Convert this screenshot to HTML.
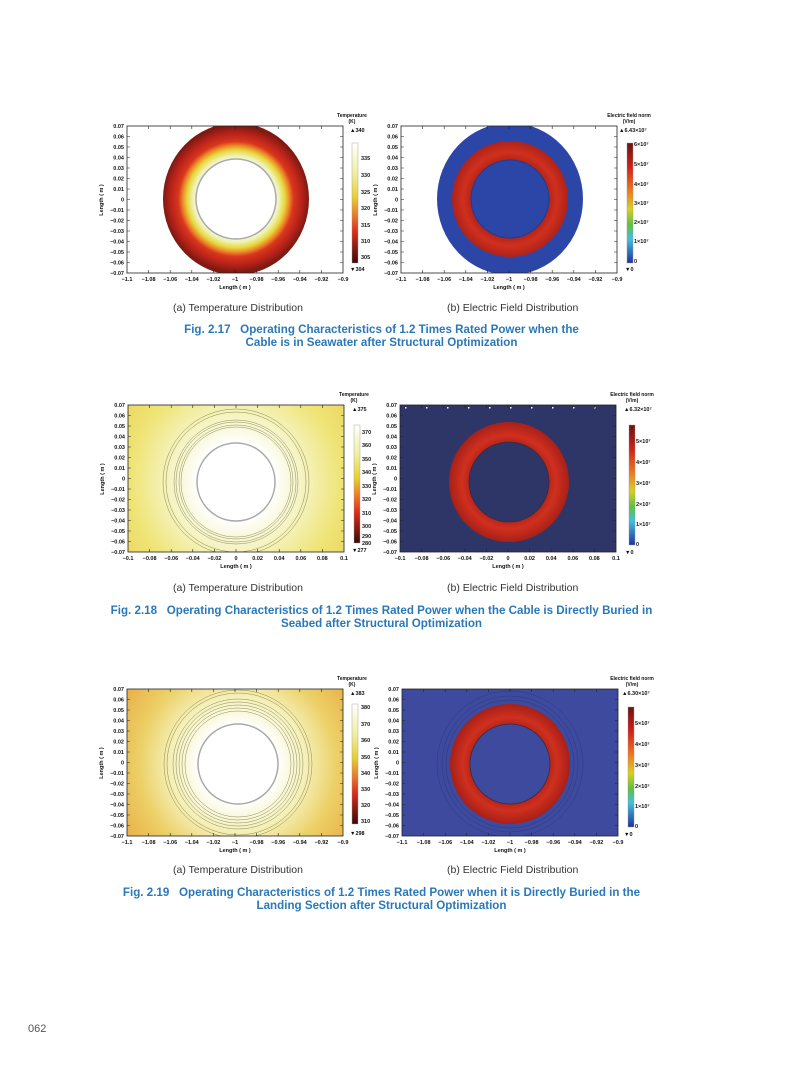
<!DOCTYPE html>
<html><head><meta charset="utf-8"><style>
body{margin:0;background:#fff;width:793px;height:1077px;position:relative;overflow:hidden;font-family:"Liberation Sans",sans-serif}
.sub{position:absolute;font-size:10.5px;color:#333}
.cap{position:absolute;left:-15px;width:793px;text-align:center;font-size:11.6px;font-weight:bold;color:#2a78b8;line-height:13px}
svg text{font-family:"Liberation Sans",sans-serif;font-weight:bold;fill:#111}
</style></head><body>
<svg width="793" height="1077" style="position:absolute;left:0;top:0">
<defs>
<radialGradient id="tA" gradientUnits="userSpaceOnUse" cx="0" cy="0" r="73">
<stop offset="0.54" stop-color="#f6f6e8"/><stop offset="0.6" stop-color="#eef0a8"/><stop offset="0.67" stop-color="#e6d83c"/><stop offset="0.73" stop-color="#ec8a2a"/><stop offset="0.79" stop-color="#d9361c"/><stop offset="0.9" stop-color="#b8221a"/><stop offset="1" stop-color="#7e1a12"/></radialGradient>
<radialGradient id="tC" gradientUnits="userSpaceOnUse" cx="0" cy="0" r="150">
<stop offset="0.26" stop-color="#ffffff"/><stop offset="0.45" stop-color="#f5f3c0"/><stop offset="0.7" stop-color="#efe476"/><stop offset="1" stop-color="#e9d058"/></radialGradient>
<radialGradient id="tE" gradientUnits="userSpaceOnUse" cx="0" cy="0" r="150">
<stop offset="0.26" stop-color="#ffffff"/><stop offset="0.45" stop-color="#f5f0b8"/><stop offset="0.66" stop-color="#ecd066"/><stop offset="1" stop-color="#e8a03a"/></radialGradient>
<radialGradient id="eR" gradientUnits="userSpaceOnUse" cx="0" cy="0" r="60">
<stop offset="0.6" stop-color="#a82018"/><stop offset="0.78" stop-color="#d0301e"/><stop offset="1" stop-color="#a82018"/></radialGradient>
<linearGradient id="cT" x1="0" y1="0" x2="0" y2="1">
<stop offset="0" stop-color="#ffffff"/><stop offset="0.25" stop-color="#f0f0a0"/><stop offset="0.45" stop-color="#e8d030"/><stop offset="0.6" stop-color="#ec7a28"/><stop offset="0.75" stop-color="#d82a1a"/><stop offset="1" stop-color="#3a0a08"/></linearGradient>
<linearGradient id="cE" x1="0" y1="0" x2="0" y2="1">
<stop offset="0" stop-color="#6a1410"/><stop offset="0.2" stop-color="#d02018"/><stop offset="0.4" stop-color="#ee7a20"/><stop offset="0.55" stop-color="#d8d020"/><stop offset="0.68" stop-color="#60c040"/><stop offset="0.8" stop-color="#40c0e0"/><stop offset="1" stop-color="#2030a0"/></linearGradient>
<clipPath id="fr"><rect x="0" y="0" width="216" height="147"/></clipPath>
<g id="yl" font-size="5.5" text-anchor="end">
<text x="-3" y="2">0.07</text><text x="-3" y="12.5">0.06</text><text x="-3" y="23">0.05</text><text x="-3" y="33.5">0.04</text><text x="-3" y="44">0.03</text><text x="-3" y="54.5">0.02</text><text x="-3" y="65">0.01</text><text x="-3" y="75.5">0</text><text x="-3" y="86">−0.01</text><text x="-3" y="96.5">−0.02</text><text x="-3" y="107">−0.03</text><text x="-3" y="117.5">−0.04</text><text x="-3" y="128">−0.05</text><text x="-3" y="138.5">−0.06</text><text x="-3" y="149">−0.07</text>
<text transform="translate(-24,74) rotate(-90)" text-anchor="middle">Length ( m )</text>
</g>
<g id="xa" font-size="5.5" text-anchor="middle">
<text x="0" y="155">−1.1</text><text x="21.6" y="155">−1.08</text><text x="43.2" y="155">−1.06</text><text x="64.8" y="155">−1.04</text><text x="86.4" y="155">−1.02</text><text x="108" y="155">−1</text><text x="129.6" y="155">−0.98</text><text x="151.2" y="155">−0.96</text><text x="172.8" y="155">−0.94</text><text x="194.4" y="155">−0.92</text><text x="216" y="155">−0.9</text><text x="108" y="163">Length ( m )</text></g>
<g id="xb" font-size="5.5" text-anchor="middle">
<text x="0" y="155">−0.1</text><text x="21.6" y="155">−0.08</text><text x="43.2" y="155">−0.06</text><text x="64.8" y="155">−0.04</text><text x="86.4" y="155">−0.02</text><text x="108" y="155">0</text><text x="129.6" y="155">0.02</text><text x="151.2" y="155">0.04</text><text x="172.8" y="155">0.06</text><text x="194.4" y="155">0.08</text><text x="216" y="155">0.1</text><text x="108" y="163">Length ( m )</text></g>
<g id="tk" stroke="#222" stroke-width="0.6">
<path d="M0 10.5h3M0 21h3M0 31.5h3M0 42h3M0 52.5h3M0 63h3M0 73.5h3M0 84h3M0 94.5h3M0 105h3M0 115.5h3M0 126h3M0 136.5h3M216 10.5h-3M216 21h-3M216 31.5h-3M216 42h-3M216 52.5h-3M216 63h-3M216 73.5h-3M216 84h-3M216 94.5h-3M216 105h-3M216 115.5h-3M216 126h-3M216 136.5h-3M21.6 147v-3M43.2 147v-3M64.8 147v-3M86.4 147v-3M108 147v-3M129.6 147v-3M151.2 147v-3M172.8 147v-3M194.4 147v-3M21.6 0v3M43.2 0v3M64.8 0v3M86.4 0v3M108 0v3M129.6 0v3M151.2 0v3M172.8 0v3M194.4 0v3"/>
<rect x="0" y="0" width="216" height="147" fill="none" stroke-width="0.8"/></g>
</defs>

<!-- 2.17 A -->
<g transform="translate(127,126)">
<g clip-path="url(#fr)"><rect width="216" height="147" fill="#fff"/>
<g transform="translate(109,73)"><ellipse rx="73" ry="76" fill="url(#tA)"/><circle r="40" fill="#fff" stroke="#aaa" stroke-width="1.5"/></g></g>
<use href="#tk"/><use href="#yl"/><use href="#xa"/>
<rect x="225" y="17" width="6" height="120" fill="url(#cT)" stroke="#999" stroke-width="0.4"/>
<g font-size="5.5"><text x="225" y="-9" text-anchor="middle" font-size="5">Temperature</text><text x="225" y="-3" text-anchor="middle" font-size="5">(K)</text><text x="223" y="6">▲340</text>
<text x="234" y="34">335</text><text x="234" y="51">330</text><text x="234" y="68">325</text><text x="234" y="84">320</text><text x="234" y="101">315</text><text x="234" y="117">310</text><text x="234" y="133">305</text><text x="223" y="145">▼304</text></g>
</g>
<!-- 2.17 B -->
<g transform="translate(401,126)">
<g clip-path="url(#fr)"><rect width="216" height="147" fill="#fff"/>
<g transform="translate(109,73)"><ellipse rx="73" ry="76" fill="#2c46a8"/><circle r="58" fill="url(#eR)"/><circle r="39" fill="#2c46a8" stroke="#223a90" stroke-width="1"/></g></g>
<use href="#tk"/><use href="#yl"/><use href="#xa"/>
<rect x="226" y="17" width="6" height="120" fill="url(#cE)" stroke="#999" stroke-width="0.4"/>
<g font-size="5.5"><text x="228" y="-9" text-anchor="middle" font-size="5">Electric field norm</text><text x="228" y="-3" text-anchor="middle" font-size="5">(V/m)</text><text x="218" y="6">▲6.43×10⁷</text>
<text x="233" y="20">6×10⁷</text><text x="233" y="40">5×10⁷</text><text x="233" y="60">4×10⁷</text><text x="233" y="79">3×10⁷</text><text x="233" y="98">2×10⁷</text><text x="233" y="117">1×10⁷</text><text x="233" y="137">0</text><text x="224" y="145">▼0</text></g>
</g>

<!-- 2.18 C -->
<g transform="translate(128,405)">
<g clip-path="url(#fr)"><rect width="216" height="147" fill="#e9d058"/>
<g transform="translate(108,77)"><circle r="150" fill="url(#tC)"/>
<g fill="none" stroke="#8a8a50" stroke-width="0.5"><circle r="73"/><circle r="70"/><circle r="62"/><circle r="60"/><circle r="57"/><circle r="55"/></g>
<circle r="39" fill="#fff" stroke="#aaa" stroke-width="1.5"/></g></g>
<use href="#tk"/><use href="#yl"/><use href="#xb"/>
<rect x="226" y="20" width="6" height="118" fill="url(#cT)" stroke="#999" stroke-width="0.4"/>
<g font-size="5.5"><text x="226" y="-9" text-anchor="middle" font-size="5">Temperature</text><text x="226" y="-3" text-anchor="middle" font-size="5">(K)</text><text x="224" y="6">▲375</text>
<text x="234" y="29">370</text><text x="234" y="42">360</text><text x="234" y="56">350</text><text x="234" y="69">340</text><text x="234" y="83">330</text><text x="234" y="96">320</text><text x="234" y="110">310</text><text x="234" y="123">300</text><text x="234" y="133">290</text><text x="234" y="140">280</text><text x="224" y="147">▼277</text></g>
</g>
<!-- 2.18 D -->
<g transform="translate(400,405)">
<g clip-path="url(#fr)"><rect width="216" height="147" fill="#2e3567"/>
<g transform="translate(109,77)"><circle r="60" fill="url(#eR)"/><circle r="40" fill="#2e3567" stroke="#3a2a40" stroke-width="0.8"/></g>
<g fill="#fff"><rect x="5" y="2" width="1.5" height="1.5"/><rect x="26" y="2" width="1.5" height="1.5"/><rect x="47" y="2" width="1.5" height="1.5"/><rect x="68" y="2" width="1.5" height="1.5"/><rect x="89" y="2" width="1.5" height="1.5"/><rect x="110" y="2" width="1.5" height="1.5"/><rect x="131" y="2" width="1.5" height="1.5"/><rect x="152" y="2" width="1.5" height="1.5"/><rect x="173" y="2" width="1.5" height="1.5"/><rect x="194" y="2" width="1.5" height="1.5"/></g></g>
<use href="#tk"/><use href="#yl"/><use href="#xb"/>
<rect x="229" y="20" width="6" height="120" fill="url(#cE)" stroke="#999" stroke-width="0.4"/>
<g font-size="5.5"><text x="232" y="-9" text-anchor="middle" font-size="5">Electric field norm</text><text x="232" y="-3" text-anchor="middle" font-size="5">(V/m)</text><text x="224" y="6">▲6.32×10⁷</text>
<text x="236" y="38">5×10⁷</text><text x="236" y="59">4×10⁷</text><text x="236" y="80">3×10⁷</text><text x="236" y="101">2×10⁷</text><text x="236" y="121">1×10⁷</text><text x="236" y="141">0</text><text x="225" y="149">▼0</text></g>
</g>

<!-- 2.19 E -->
<g transform="translate(127,689)">
<g clip-path="url(#fr)"><rect width="216" height="147" fill="#e8a03a"/>
<g transform="translate(111,75)"><circle r="150" fill="url(#tE)"/>
<g fill="none" stroke="#8a8a50" stroke-width="0.5"><circle r="74"/><circle r="71"/><circle r="65"/><circle r="62"/><circle r="59"/><circle r="56"/><circle r="53"/></g>
<circle r="40" fill="#fff" stroke="#aaa" stroke-width="1.5"/></g></g>
<use href="#tk"/><use href="#yl"/><use href="#xa"/>
<rect x="225" y="15" width="6" height="120" fill="url(#cT)" stroke="#999" stroke-width="0.4"/>
<g font-size="5.5"><text x="225" y="-9" text-anchor="middle" font-size="5">Temperature</text><text x="225" y="-3" text-anchor="middle" font-size="5">(K)</text><text x="223" y="6">▲383</text>
<text x="234" y="20">380</text><text x="234" y="37">370</text><text x="234" y="53">360</text><text x="234" y="70">350</text><text x="234" y="86">340</text><text x="234" y="102">330</text><text x="234" y="118">320</text><text x="234" y="134">310</text><text x="223" y="146">▼298</text></g>
</g>
<!-- 2.19 F -->
<g transform="translate(402,689)">
<g clip-path="url(#fr)"><rect width="216" height="147" fill="#3d4a9e"/>
<g transform="translate(108,75)"><g fill="none" stroke="#2e3680" stroke-width="0.5"><circle r="73"/><circle r="68"/><circle r="64"/></g><circle r="60" fill="url(#eR)"/><circle r="40" fill="#3d4a9e" stroke="#3a2a40" stroke-width="0.8"/></g></g>
<use href="#tk"/><use href="#yl"/><use href="#xa"/>
<rect x="226" y="18" width="6" height="120" fill="url(#cE)" stroke="#999" stroke-width="0.4"/>
<g font-size="5.5"><text x="230" y="-9" text-anchor="middle" font-size="5">Electric field norm</text><text x="230" y="-3" text-anchor="middle" font-size="5">(V/m)</text><text x="220" y="6">▲6.30×10⁷</text>
<text x="233" y="36">5×10⁷</text><text x="233" y="57">4×10⁷</text><text x="233" y="78">3×10⁷</text><text x="233" y="99">2×10⁷</text><text x="233" y="119">1×10⁷</text><text x="233" y="139">0</text><text x="222" y="147">▼0</text></g>
</g>
</svg>

<div class="sub" style="left:173px;top:302px">(a) Temperature Distribution</div>
<div class="sub" style="left:447px;top:302px">(b) Electric Field Distribution</div>
<div class="cap" style="top:323px">Fig. 2.17&nbsp;&nbsp; Operating Characteristics of 1.2 Times Rated Power when the<br>Cable is in Seawater after Structural Optimization</div>

<div class="sub" style="left:173px;top:582px">(a) Temperature Distribution</div>
<div class="sub" style="left:447px;top:582px">(b) Electric Field Distribution</div>
<div class="cap" style="top:604px">Fig. 2.18&nbsp;&nbsp; Operating Characteristics of 1.2 Times Rated Power when the Cable is Directly Buried in<br>Seabed after Structural Optimization</div>

<div class="sub" style="left:173px;top:864px">(a) Temperature Distribution</div>
<div class="sub" style="left:447px;top:864px">(b) Electric Field Distribution</div>
<div class="cap" style="top:886px">Fig. 2.19&nbsp;&nbsp; Operating Characteristics of 1.2 Times Rated Power when it is Directly Buried in the<br>Landing Section after Structural Optimization</div>

<div style="position:absolute;left:28px;top:1023px;font-size:11px;color:#555">062</div>
</body></html>
